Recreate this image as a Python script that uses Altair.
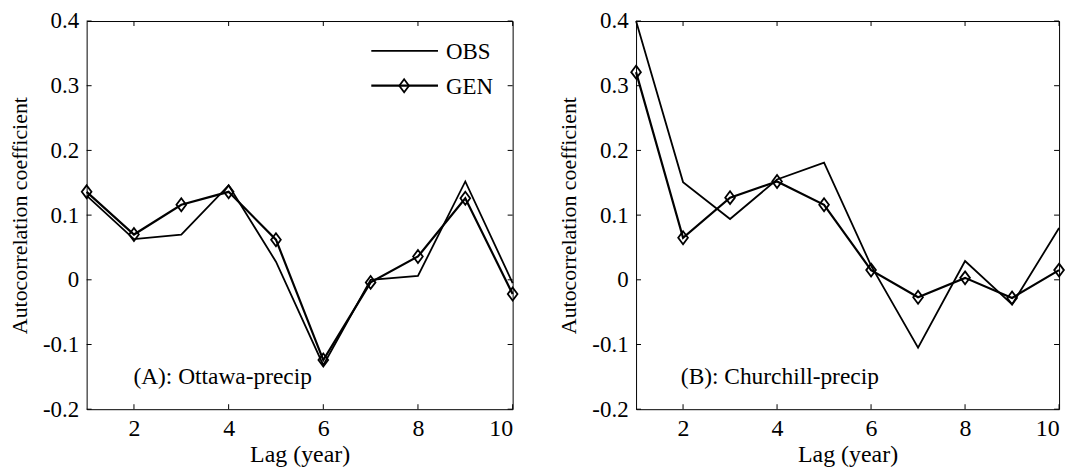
import altair as alt
import pandas as pd

lags = [1, 2, 3, 4, 5, 6, 7, 8, 9, 10]
ottawa_obs = [0.130, 0.063, 0.070, 0.146, 0.028, -0.132, 0.000, 0.006, 0.152, -0.005]
ottawa_gen = [0.136, 0.070, 0.116, 0.136, 0.062, -0.124, -0.004, 0.036, 0.126, -0.022]
churchill_obs = [0.400, 0.151, 0.094, 0.155, 0.181, 0.022, -0.105, 0.029, -0.038, 0.080]
churchill_gen = [0.321, 0.065, 0.127, 0.152, 0.116, 0.015, -0.027, 0.003, -0.028, 0.015]
series_names = ["OBS", "GEN"]
panel_labels = ["(A): Ottawa-precip", "(B): Churchill-precip"]
x_ticks = [2, 4, 6, 8, 10]
y_ticks = [-0.2, -0.1, 0, 0.1, 0.2, 0.3, 0.4]
x_title = "Lag (year)"
y_title = "Autocorrelation coefficient"

FONT = "Liberation Serif, Times New Roman, serif"
H = 390
DIAMOND = "M0,-1L0.75,0L0,1L-0.75,0Z"


def xenc(W):
    return alt.X(
        "lag:Q",
        scale=alt.Scale(domain=[1, 10], nice=False, zero=False),
        axis=alt.Axis(values=x_ticks, title=x_title, ticks=False, domain=False, grid=False,
                      labelFont=FONT, labelFontSize=24, labelColor="black", labelPadding=7,
                      titleFont=FONT, titleFontSize=24, titleFontWeight="normal",
                      titleColor="black", titlePadding=3),
    )


def yenc():
    return alt.Y(
        "value:Q",
        scale=alt.Scale(domain=[-0.2, 0.4], nice=False, zero=False),
        axis=alt.Axis(values=y_ticks, title=y_title, ticks=False, domain=False, grid=False,
                      labelExpr="toString(round(datum.value*10)/10)",
                      labelFont=FONT, labelFontSize=23, labelColor="black", labelPadding=8,
                      titleFont=FONT, titleFontSize=22, titleFontWeight="normal",
                      titleColor="black", titlePadding=11),
    )


def panel(obs, gen, label, W, legend, label_x):
    df = pd.DataFrame({
        "lag": lags * 2,
        "value": obs + gen,
        "series": [series_names[0]] * len(lags) + [series_names[1]] * len(lags),
    })
    obs_df = df[df.series == series_names[0]]
    gen_df = df[df.series == series_names[1]]
    ydf = pd.DataFrame({"value": y_ticks})
    xdf = pd.DataFrame({"lag": x_ticks})
    one = pd.DataFrame({"k": [0]})

    layers = [
        alt.Chart(obs_df).mark_line(color="black", strokeWidth=1.8).encode(x=xenc(W), y=yenc()),
        alt.Chart(gen_df).mark_line(color="black", strokeWidth=2.2).encode(x=xenc(W), y=yenc()),
        alt.Chart(gen_df).mark_point(shape=DIAMOND, size=169, filled=False, color="black",
                                     strokeWidth=1.8, opacity=1).encode(x=xenc(W), y=yenc()),
        alt.Chart(ydf).mark_rule(color="black", strokeWidth=1).encode(
            y=yenc(), x=alt.value(0), x2=alt.value(5)),
        alt.Chart(ydf).mark_rule(color="black", strokeWidth=1).encode(
            y=yenc(), x=alt.value(W), x2=alt.value(W - 5)),
        alt.Chart(xdf).mark_rule(color="black", strokeWidth=1).encode(
            x=xenc(W), y=alt.value(H), y2=alt.value(H - 5)),
        alt.Chart(xdf).mark_rule(color="black", strokeWidth=1).encode(
            x=xenc(W), y=alt.value(0), y2=alt.value(5)),
        alt.Chart(one).mark_text(font=FONT, fontSize=23.5, align="left", baseline="alphabetic",
                                 color="black").encode(
            x=alt.value(label_x), y=alt.value(365), text=alt.value(label)),
    ]
    if legend:
        layers += [
            alt.Chart(one).mark_rule(color="black", strokeWidth=1.8).encode(
                x=alt.value(286), x2=alt.value(353), y=alt.value(30)),
            alt.Chart(one).mark_rule(color="black", strokeWidth=2.2).encode(
                x=alt.value(286), x2=alt.value(353), y=alt.value(65)),
            alt.Chart(one).mark_point(shape=DIAMOND, size=169, filled=False, color="black",
                                      strokeWidth=1.8, opacity=1).encode(
                x=alt.value(319), y=alt.value(65)),
            alt.Chart(one).mark_text(font=FONT, fontSize=23, align="left", baseline="middle",
                                     color="black").encode(
                x=alt.value(361), y=alt.value(31), text=alt.value(series_names[0])),
            alt.Chart(one).mark_text(font=FONT, fontSize=23, align="left", baseline="middle",
                                     color="black").encode(
                x=alt.value(361), y=alt.value(66), text=alt.value(series_names[1])),
        ]
    return alt.layer(*layers).properties(width=W, height=H)


left = panel(ottawa_obs, ottawa_gen, panel_labels[0], 428, True, 47)
right = panel(churchill_obs, churchill_gen, panel_labels[1], 425, False, 45)

chart = alt.hconcat(left, right, spacing=124, bounds="flush").properties(
    padding={"left": 0, "top": 0, "right": 5, "bottom": 0}
).configure(
    background="white",
    view=alt.ViewConfig(stroke="black", strokeWidth=1),
)

chart.save("out.html", embed_options={"renderer": "svg", "actions": False})
